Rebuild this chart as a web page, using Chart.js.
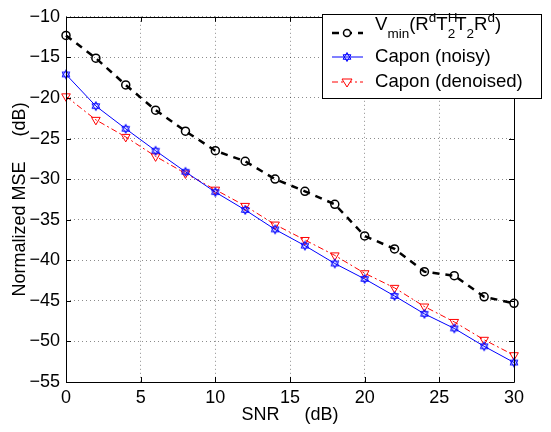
<!DOCTYPE html>
<html>
<head>
<meta charset="utf-8">
<script src="https://cdn.jsdelivr.net/npm/chart.js@4/dist/chart.umd.min.js"></script>
<style>
  html, body { margin: 0; padding: 0; background: #fff; }
  #wrap { width: 551px; height: 432px; }
</style>
</head>
<body>
<div id="wrap"><canvas id="chart" width="551" height="432"></canvas></div>
<script>
// data
const snr = [0, 2, 4, 6, 8, 10, 12, 14, 16, 18, 20, 22, 24, 26, 28, 30];
const vminMse = [-12.3, -15.1, -18.4, -21.5, -24.1, -26.5, -27.8, -30.0, -31.5, -33.1, -37.0, -38.6, -41.4, -41.9, -44.5, -45.3];
const caponNoisy = [-17.1, -21.0, -23.8, -26.5, -29.1, -31.6, -33.8, -36.2, -38.2, -40.4, -42.3, -44.4, -46.6, -48.4, -50.6, -52.6];
const caponDenoised = [-19.8, -22.7, -24.8, -27.2, -29.3, -31.3, -33.3, -35.6, -37.5, -39.4, -41.6, -43.4, -45.7, -47.6, -49.8, -51.7];
const xTicks = [0, 5, 10, 15, 20, 25, 30];
const yTicks = [-55, -50, -45, -40, -35, -30, -25, -20, -15, -10];

const FONT = 'Liberation Sans, Arial, Helvetica, sans-serif';

function toPoints(ys) {
    return snr.map((x, i) => ({x: x, y: ys[i]}));
}

// hexagram marker for the noisy Capon curve
function makeHexagram(color, r) {
    const c = document.createElement('canvas');
    const s = Math.ceil(r * 2 + 3);
    c.width = s; c.height = s;
    const g = c.getContext('2d');
    const cx = s / 2, cy = s / 2;
    g.strokeStyle = color;
    g.lineWidth = 1;
    [-Math.PI / 2, Math.PI / 2].forEach(a0 => {
        g.beginPath();
        for (let k = 0; k < 3; k++) {
            const a = a0 + k * 2 * Math.PI / 3;
            const px = cx + r * Math.cos(a), py = cy + r * Math.sin(a);
            if (k === 0) g.moveTo(px, py); else g.lineTo(px, py);
        }
        g.closePath();
        g.stroke();
    });
    return c;
}
const starImg = makeHexagram('#0000ff', 4.5);

function minus(v) {
    return String(v).replace('-', '\u2212');
}

// box + inward tick marks like the original axes
const frame = {
    id: 'frame',
    afterDatasetsDraw(chart) {
        const {ctx, chartArea: a, scales} = chart;
        ctx.save();
        ctx.strokeStyle = '#000';
        ctx.lineWidth = 1;
        ctx.beginPath();
        xTicks.forEach(t => {
            const px = Math.round(scales.x.getPixelForValue(t)) + 0.5;
            ctx.moveTo(px, a.bottom); ctx.lineTo(px, a.bottom - 5);
            ctx.moveTo(px, a.top); ctx.lineTo(px, a.top + 5);
        });
        yTicks.forEach(t => {
            const py = Math.round(scales.y.getPixelForValue(t)) + 0.5;
            ctx.moveTo(a.left, py); ctx.lineTo(a.left + 5, py);
            ctx.moveTo(a.right, py); ctx.lineTo(a.right - 5, py);
        });
        ctx.stroke();
        ctx.beginPath();
        ctx.rect(Math.round(a.left) + 0.5, Math.round(a.top) + 0.5,
                 Math.round(a.right - a.left), Math.round(a.bottom - a.top));
        ctx.stroke();
        ctx.restore();
    }
};

// legend with sub/superscripts
function drawRich(ctx, x, y, parts) {
    parts.forEach(p => {
        const size = p.small ? 13.5 : 18.6;
        ctx.font = size + 'px ' + FONT;
        ctx.fillText(p.t, x, y + (p.dy || 0));
        if (!p.stack) x += ctx.measureText(p.t).width;
    });
}

const legendBox = {
    id: 'legendBox',
    afterDraw(chart) {
        const ctx = chart.ctx;
        ctx.save();
        const bx = 322, by = 14, bw = 219, bh = 84;
        ctx.fillStyle = '#fff';
        ctx.fillRect(bx, by, bw, bh);
        ctx.strokeStyle = '#000';
        ctx.lineWidth = 1;
        ctx.strokeRect(bx + 0.5, by + 0.5, bw, bh);

        const x0 = 332, x1 = 363, xm = 347;
        // row 1: dashed black with circle
        let y = 33;
        ctx.strokeStyle = '#000';
        ctx.lineWidth = 2.5;
        ctx.setLineDash([7, 6]);
        ctx.beginPath(); ctx.moveTo(x0, y); ctx.lineTo(x1, y); ctx.stroke();
        ctx.setLineDash([]);
        ctx.lineWidth = 1.5;
        ctx.fillStyle = '#fff';
        ctx.beginPath(); ctx.arc(xm, y, 3.5, 0, 2 * Math.PI); ctx.fill(); ctx.stroke();

        // row 2: solid blue with hexagram
        y = 57;
        ctx.strokeStyle = '#0000ff';
        ctx.lineWidth = 1;
        ctx.beginPath(); ctx.moveTo(x0, y); ctx.lineTo(x1, y); ctx.stroke();
        ctx.drawImage(starImg, xm - starImg.width / 2, y - starImg.height / 2);

        // row 3: dash-dot red with down triangle
        y = 82;
        ctx.strokeStyle = '#ff0000';
        ctx.setLineDash([6, 3, 2, 3]);
        ctx.beginPath(); ctx.moveTo(x0, y); ctx.lineTo(x1, y); ctx.stroke();
        ctx.setLineDash([]);
        ctx.fillStyle = '#fff';
        ctx.beginPath();
        ctx.moveTo(xm - 5, y - 3); ctx.lineTo(xm + 5, y - 3); ctx.lineTo(xm, y + 5); ctx.closePath();
        ctx.fill(); ctx.stroke();

        ctx.fillStyle = '#000';
        ctx.textBaseline = 'alphabetic';
        ctx.textAlign = 'left';
        drawRich(ctx, 375, 30, [
            {t: 'V'}, {t: 'min', small: true, dy: 8},
            {t: '(R'}, {t: 'd', small: true, dy: -8},
            {t: 'T'}, {t: 'H', small: true, dy: -8, stack: true}, {t: '2', small: true, dy: 8},
            {t: 'T'}, {t: '2', small: true, dy: 8},
            {t: 'R'}, {t: 'd', small: true, dy: -8},
            {t: ')'}
        ]);
        ctx.font = '18.6px ' + FONT;
        ctx.fillText('Capon (noisy)', 375, 62);
        ctx.fillText('Capon (denoised)', 375, 87);
        ctx.restore();
    }
};

const ctx = document.getElementById('chart').getContext('2d');
new Chart(ctx, {
    type: 'line',
    data: {
        datasets: [{
            label: 'Vmin',
            data: toPoints(vminMse),
            borderColor: '#000',
            borderWidth: 2.5,
            borderDash: [7, 6],
            pointStyle: 'circle',
            pointRadius: 4,
            pointBorderWidth: 1.5,
            pointBorderColor: '#000',
            pointBackgroundColor: 'rgba(255,255,255,0)',
            fill: false,
            clip: false,
            tension: 0
        }, {
            label: 'Capon (noisy)',
            data: toPoints(caponNoisy),
            borderColor: '#0000ff',
            borderWidth: 1,
            pointStyle: starImg,
            fill: false,
            clip: false,
            tension: 0
        }, {
            label: 'Capon (denoised)',
            data: toPoints(caponDenoised),
            borderColor: '#ff0000',
            borderWidth: 1,
            borderDash: [6, 3, 2, 3],
            pointStyle: 'triangle',
            pointRotation: 180,
            pointRadius: 5,
            pointBorderWidth: 1,
            pointBorderColor: '#ff0000',
            pointBackgroundColor: 'rgba(255,255,255,0)',
            fill: false,
            clip: false,
            tension: 0
        }]
    },
    options: {
        responsive: false,
        animation: false,
        devicePixelRatio: 1,
        layout: {padding: {top: 9, right: 37, left: 0, bottom: 0}},
        plugins: {legend: {display: false}, tooltip: {enabled: false}},
        scales: {
            x: {
                type: 'linear',
                min: 0, max: 30,
                afterBuildTicks: s => { s.ticks = xTicks.map(v => ({value: v})); },
                afterFit: s => { s.height = 50; },
                grid: {color: 'rgba(0,0,0,0.45)', lineWidth: 1, drawTicks: false},
                border: {display: false, dash: [1, 3]},
                ticks: {
                    color: '#000', padding: 5, maxRotation: 0,
                    font: {family: FONT, size: 18},
                    callback: v => minus(v)
                },
                title: {
                    display: true, text: 'SNR     (dB)', color: '#000',
                    font: {family: FONT, size: 18}, padding: {top: 0, bottom: 6}
                }
            },
            y: {
                type: 'linear',
                min: -55, max: -10,
                afterBuildTicks: s => { s.ticks = yTicks.map(v => ({value: v})); },
                afterFit: s => { s.width = 66; },
                grid: {color: 'rgba(0,0,0,0.45)', lineWidth: 1, drawTicks: false},
                border: {display: false, dash: [1, 3]},
                ticks: {
                    color: '#000', padding: 6,
                    font: {family: FONT, size: 18},
                    callback: v => minus(v)
                },
                title: {
                    display: true, text: 'Normalized MSE     (dB)', color: '#000',
                    font: {family: FONT, size: 18}, padding: {top: 9, bottom: 0}
                }
            }
        }
    },
    plugins: [frame, legendBox]
});
</script>
</body>
</html>
